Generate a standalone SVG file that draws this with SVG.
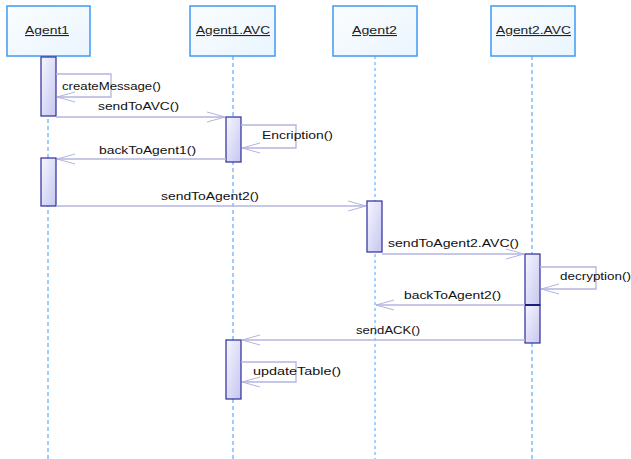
<svg xmlns="http://www.w3.org/2000/svg" width="631" height="459" viewBox="0 0 631 459">
  <defs>
    <linearGradient id="headFill" x1="0" y1="0" x2="1" y2="1">
      <stop offset="0" stop-color="#fbfdff"/>
      <stop offset="1" stop-color="#eaf5fe"/>
    </linearGradient>
    <linearGradient id="actFill" x1="0" y1="0" x2="1" y2="1">
      <stop offset="0" stop-color="#f6f6ff"/>
      <stop offset="1" stop-color="#c6c6f0"/>
    </linearGradient>
    <marker id="open" markerUnits="userSpaceOnUse" markerWidth="24" markerHeight="14" viewBox="-20 -7 22 14" refX="0" refY="0" orient="auto">
      <path d="M-18,-5 L0,0 L-18,5" fill="none" stroke="#b4b4e0" stroke-width="1"/>
    </marker>
  </defs>
  <style>
    .head { fill: url(#headFill); stroke: #3d9bf2; stroke-width: 1.5; }
    .name { font-family: "Liberation Sans", Arial, sans-serif; font-size: 11px; fill: #222; text-decoration: underline; }
    .life { stroke: #3d9bf2; stroke-width: 1; stroke-dasharray: 4 3; fill: none; }
    .life2 { stroke: #a8d2fb; stroke-width: 2; stroke-dasharray: 3 3; fill: none; }
    .act { fill: url(#actFill); stroke: #2a2a9a; stroke-width: 1.2; }
    .msg { stroke: #b4b4e0; stroke-width: 1.3; fill: none; marker-end: url(#open); }
    .lbl { font-family: "Liberation Sans", Arial, sans-serif; font-size: 11px; fill: #111; }
  </style>

  <rect width="631" height="459" fill="#ffffff"/>

  <!-- lifelines -->
  <g id="lifelines">
    <line class="life" x1="48" y1="56" x2="48" y2="459"/>
    <line class="life" x1="233" y1="56" x2="233" y2="459"/>
    <line class="life2" x1="375" y1="56" x2="375" y2="459"/>
    <line class="life" x1="532" y1="56" x2="532" y2="459"/>
  </g>

  <!-- participants -->
  <g id="agent1">
    <rect class="head" x="7" y="6" width="83" height="50"/>
    <text class="name" x="25" y="34" textLength="44" lengthAdjust="spacingAndGlyphs">Agent1</text>
    <rect class="act" x="41" y="57" width="15" height="59"/>
    <rect class="act" x="41" y="158" width="15" height="48"/>
  </g>
  <g id="agent1avc">
    <rect class="head" x="190" y="6" width="85" height="50"/>
    <text class="name" x="196" y="34" textLength="74" lengthAdjust="spacingAndGlyphs">Agent1.AVC</text>
    <rect class="act" x="226" y="117" width="15" height="45"/>
    <rect class="act" x="226" y="340" width="15" height="59"/>
  </g>
  <g id="agent2">
    <rect class="head" x="333" y="6" width="84" height="50"/>
    <text class="name" x="352" y="34" textLength="45" lengthAdjust="spacingAndGlyphs">Agent2</text>
    <rect class="act" x="367" y="201" width="15" height="51"/>
  </g>
  <g id="agent2avc">
    <rect class="head" x="491" y="6" width="84" height="50"/>
    <text class="name" x="496" y="34" textLength="75" lengthAdjust="spacingAndGlyphs">Agent2.AVC</text>
    <rect class="act" x="525" y="254" width="15" height="51"/>
    <rect class="act" x="525" y="305" width="15" height="38"/>
    <line x1="525" y1="305" x2="540" y2="305" stroke="#1c1c80" stroke-width="2"/>
  </g>

  <!-- messages -->
  <g id="messages">
    <path class="msg" d="M56,74 H111 V97 H57"/>
    <text class="lbl" x="62" y="90" textLength="99" lengthAdjust="spacingAndGlyphs">createMessage()</text>

    <path class="msg" d="M56,117 H225"/>
    <text class="lbl" x="98" y="110" textLength="81" lengthAdjust="spacingAndGlyphs">sendToAVC()</text>

    <path class="msg" d="M241,125 H296 V148 H242"/>
    <text class="lbl" x="262" y="139" textLength="71" lengthAdjust="spacingAndGlyphs">Encription()</text>

    <path class="msg" d="M226,159 H57"/>
    <text class="lbl" x="99" y="154" textLength="97" lengthAdjust="spacingAndGlyphs">backToAgent1()</text>

    <path class="msg" d="M56,206 H366"/>
    <text class="lbl" x="161" y="200" textLength="98" lengthAdjust="spacingAndGlyphs">sendToAgent2()</text>

    <path class="msg" d="M382,254 H524"/>
    <text class="lbl" x="388" y="247" textLength="131" lengthAdjust="spacingAndGlyphs">sendToAgent2.AVC()</text>

    <path class="msg" d="M540,267 H596 V289 H541"/>
    <text class="lbl" x="560" y="280" textLength="71" lengthAdjust="spacingAndGlyphs">decryption()</text>

    <path class="msg" d="M525,305 H376"/>
    <text class="lbl" x="404" y="299" textLength="97" lengthAdjust="spacingAndGlyphs">backToAgent2()</text>

    <path class="msg" d="M525,340 H242"/>
    <text class="lbl" x="356" y="334" textLength="64" lengthAdjust="spacingAndGlyphs">sendACK()</text>

    <path class="msg" d="M241,362 H296 V382 H242"/>
    <text class="lbl" x="253" y="375" textLength="88" lengthAdjust="spacingAndGlyphs">updateTable()</text>
  </g>
</svg>
